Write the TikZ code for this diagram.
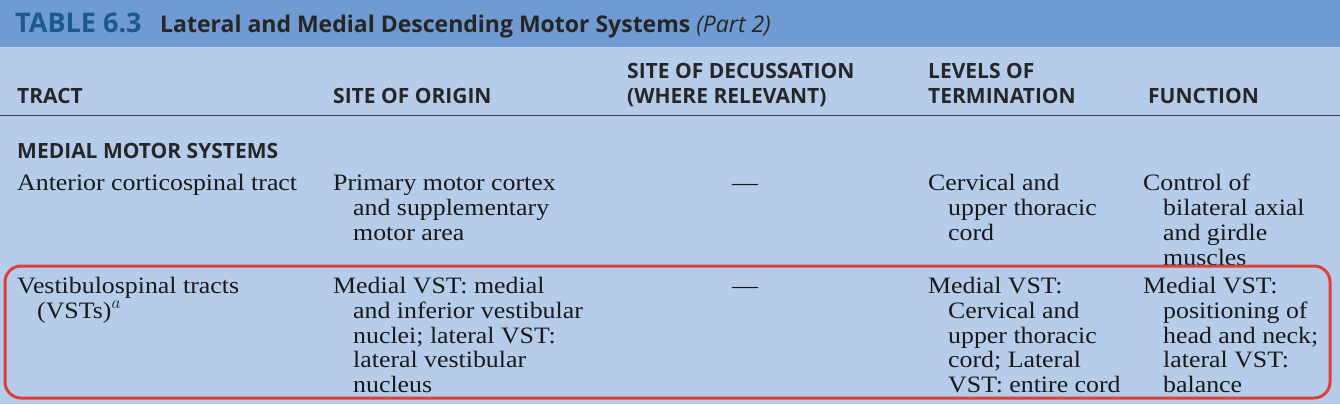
\documentclass[tikz,border=0pt]{standalone}
\usepackage{fontspec}
\setmainfont{Liberation Serif}[FakeStretch=1.1]
\newfontfamily\hsans{Open Sans}
\definecolor{barblue}{HTML}{6F9BD2}
\definecolor{bodyblue}{HTML}{B5CDEB}
\definecolor{titleblue}{HTML}{1B5A8A}
\definecolor{redbox}{HTML}{E0403A}
\begin{document}
\begin{tikzpicture}[x=1pt,y=-1pt,
  hd/.style={anchor=base west,inner sep=0pt,font=\hsans\fontsize{21}{21}\selectfont\bfseries,text=black!85},
  tx/.style={anchor=base west,inner sep=0pt,font=\fontsize{23.5}{23.5}\selectfont,text=black!90}]
\fill[bodyblue] (0,0) rectangle (1340,404);
\useasboundingbox (0,0) rectangle (1340,404);
\fill[barblue] (0,0) rectangle (1340,47);
\node[hd,font=\hsans\fontsize{27}{27}\selectfont\bfseries,text=titleblue] (t1) at (15,33) {TABLE 6.3};
\node[hd,font=\hsans\fontsize{23}{23}\selectfont\bfseries] (t2) at (160,33) {Lateral and Medial Descending Motor Systems {\mdseries\itshape(Part 2)}};
\node[hd] (h1) at (17,103) {TRACT};
\node[hd] (h2) at (333,103) {SITE OF ORIGIN};
\node[hd] (h3a) at (627,78) {SITE OF DECUSSATION};
\node[hd] (h3b) at (627,103) {(WHERE RELEVANT)};
\node[hd] (h4a) at (928,78) {LEVELS OF};
\node[hd] (h4b) at (928,103) {TERMINATION};
\node[hd] (h5) at (1148,103) {FUNCTION};
\draw[black!75,line width=0.8pt] (0,115) -- (1340,115);
\node[hd] (sec) at (17,158) {MEDIAL MOTOR SYSTEMS};
% row 1
\node[tx] (a1) at (17,190) {Anterior corticospinal tract};
\node[tx] (b1) at (333,190) {Primary motor cortex};
\node[tx] (b2) at (353,215) {and supplementary};
\node[tx] (b3) at (353,240) {motor area};
\node[tx,anchor=base] (c1) at (745,190) {---};
\node[tx] (d1) at (928,190) {Cervical and};
\node[tx] (d2) at (948,215) {upper thoracic};
\node[tx] (d3) at (948,240) {cord};
\node[tx] (e1) at (1143,190) {Control of};
\node[tx] (e2) at (1163,215) {bilateral axial};
\node[tx] (e3) at (1163,240) {and girdle};
\node[tx] (e4) at (1163,265) {muscles};
% row 2
\node[tx] (f1) at (17,293) {Vestibulospinal tracts};
\node[tx] (f2) at (37,318) {(VSTs)$^{a}$};
\node[tx] (g1) at (333,293) {Medial VST: medial};
\node[tx] (g2) at (353,318) {and inferior vestibular};
\node[tx] (g3) at (353,343) {nuclei; lateral VST:};
\node[tx] (g4) at (353,367) {lateral vestibular};
\node[tx] (g5) at (353,392) {nucleus};
\node[tx,anchor=base] (h1r) at (745,293) {---};
\node[tx] (i1) at (928,293) {Medial VST:};
\node[tx] (i2) at (948,318) {Cervical and};
\node[tx] (i3) at (948,343) {upper thoracic};
\node[tx] (i4) at (948,367) {cord; Lateral};
\node[tx] (i5) at (948,392) {VST: entire cord};
\node[tx] (j1) at (1143,293) {Medial VST:};
\node[tx] (j2) at (1163,318) {positioning of};
\node[tx] (j3) at (1163,343) {head and neck;};
\node[tx] (j4) at (1163,367) {lateral VST:};
\node[tx] (j5) at (1163,392) {balance};
\draw[redbox,line width=3pt,rounded corners=16pt] (5,266) rectangle (1330,398);
\end{tikzpicture}
\end{document}
